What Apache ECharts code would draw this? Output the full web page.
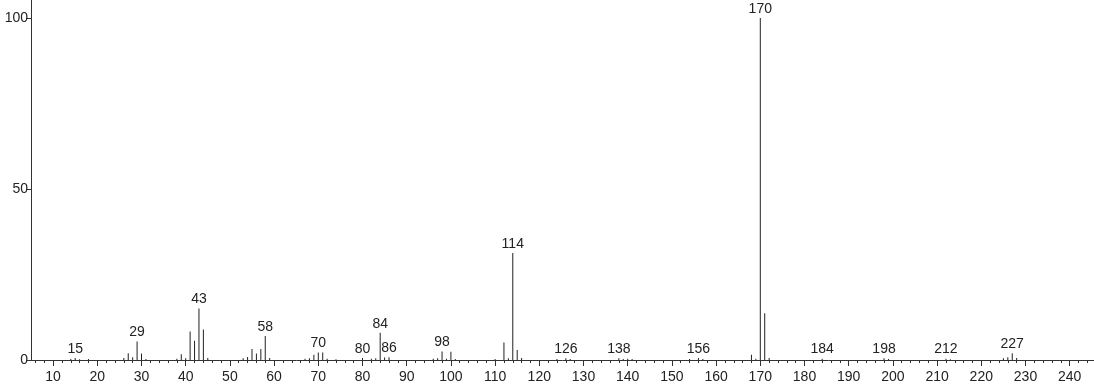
<!DOCTYPE html>
<html><head><meta charset="utf-8">
<script src="https://cdn.jsdelivr.net/npm/echarts@6/dist/echarts.min.js"></script>
<style>html,body{margin:0;padding:0;background:#fff}#c{width:1094px;height:384px}</style>
</head><body><div id="c"></div>
<script>
const mz = [14,15,16,18,26,27,28,29,30,31,38,39,40,41,42,43,44,45,53,54,55,56,57,58,59,67,68,69,70,71,72,74,80,82,83,84,85,86,96,97,98,99,100,101,110,112,113,114,115,116,124,126,127,138,139,140,141,154,156,157,168,169,170,171,172,184,198,199,212,213,225,226,227,228];
const intensity = [0.3,0.6,0.2,0.3,0.6,2.0,0.8,5.4,1.9,0.3,0.4,1.7,0.5,8.3,5.6,15.1,8.9,0.6,0.5,0.9,3.2,1.9,3.2,7.0,0.6,0.4,0.5,1.5,2.2,2.2,0.4,0.2,0.6,0.4,0.5,8.0,0.7,0.8,0.4,0.5,2.5,0.4,2.4,0.3,0.3,5.1,0.5,31.3,2.9,0.6,0.3,0.5,0.3,0.5,0.3,0.4,0.3,0.3,0.6,0.3,1.5,0.4,100,13.7,0.6,0.4,0.5,0.3,0.4,0.2,0.5,0.8,2.0,0.6];
const labeledPeaks = [15,29,43,58,70,80,84,86,98,114,126,138,156,170,184,198,212,227];
const xMajorTicks = [10,20,30,40,50,60,70,80,90,100,110,120,130,140,150,160,170,180,190,200,210,220,230,240];
const xMinorTicks = [];
for (let v = 6; v <= 244; v += 2) xMinorTicks.push(v);
const yTicks = [0,50,100];

const font = 'Liberation Sans, Arial, sans-serif';
const data = mz.map((m, i) => {
  const item = { value: [m, intensity[i]] };
  if (labeledPeaks.includes(m)) item.label = { show: true };
  return item;
});
const chart = echarts.init(document.getElementById('c'), null, { renderer: 'canvas' });
chart.setOption({
  animation: false,
  backgroundColor: '#fff',
  grid: { left: 31, top: 0, width: 1063, height: 360, containLabel: false },
  xAxis: [{
    type: 'value', min: 5, max: 245.5,
    axisLine: { show: true, lineStyle: { color: '#333', width: 1 } },
    axisTick: { show: true, length: 6, customValues: xMajorTicks, lineStyle: { color: '#333' } },
    axisLabel: { customValues: xMajorTicks, margin: 10, fontSize: 14, color: '#222', fontFamily: font },
    splitLine: { show: false }
  }, {
    type: 'value', min: 5, max: 245.5, position: 'bottom',
    axisLine: { show: false },
    axisTick: { show: true, length: 3, customValues: xMinorTicks, lineStyle: { color: '#333' } },
    axisLabel: { show: false },
    splitLine: { show: false }
  }],
  yAxis: {
    type: 'value', min: 0, max: 105.3,
    axisLine: { show: true, lineStyle: { color: '#333', width: 1 } },
    axisTick: { show: true, length: 5, customValues: yTicks, lineStyle: { color: '#333' } },
    axisLabel: { customValues: yTicks, margin: 3, fontSize: 14, color: '#222', fontFamily: font },
    splitLine: { show: false }
  },
  series: [{
    type: 'bar', xAxisIndex: 0, barWidth: 1,
    itemStyle: { color: '#222' },
    label: { show: false, position: 'top', distance: 2, fontSize: 14, color: '#222', fontFamily: font,
      formatter: p => String(p.value[0]) },
    data: data
  }]
});
</script></body></html>
